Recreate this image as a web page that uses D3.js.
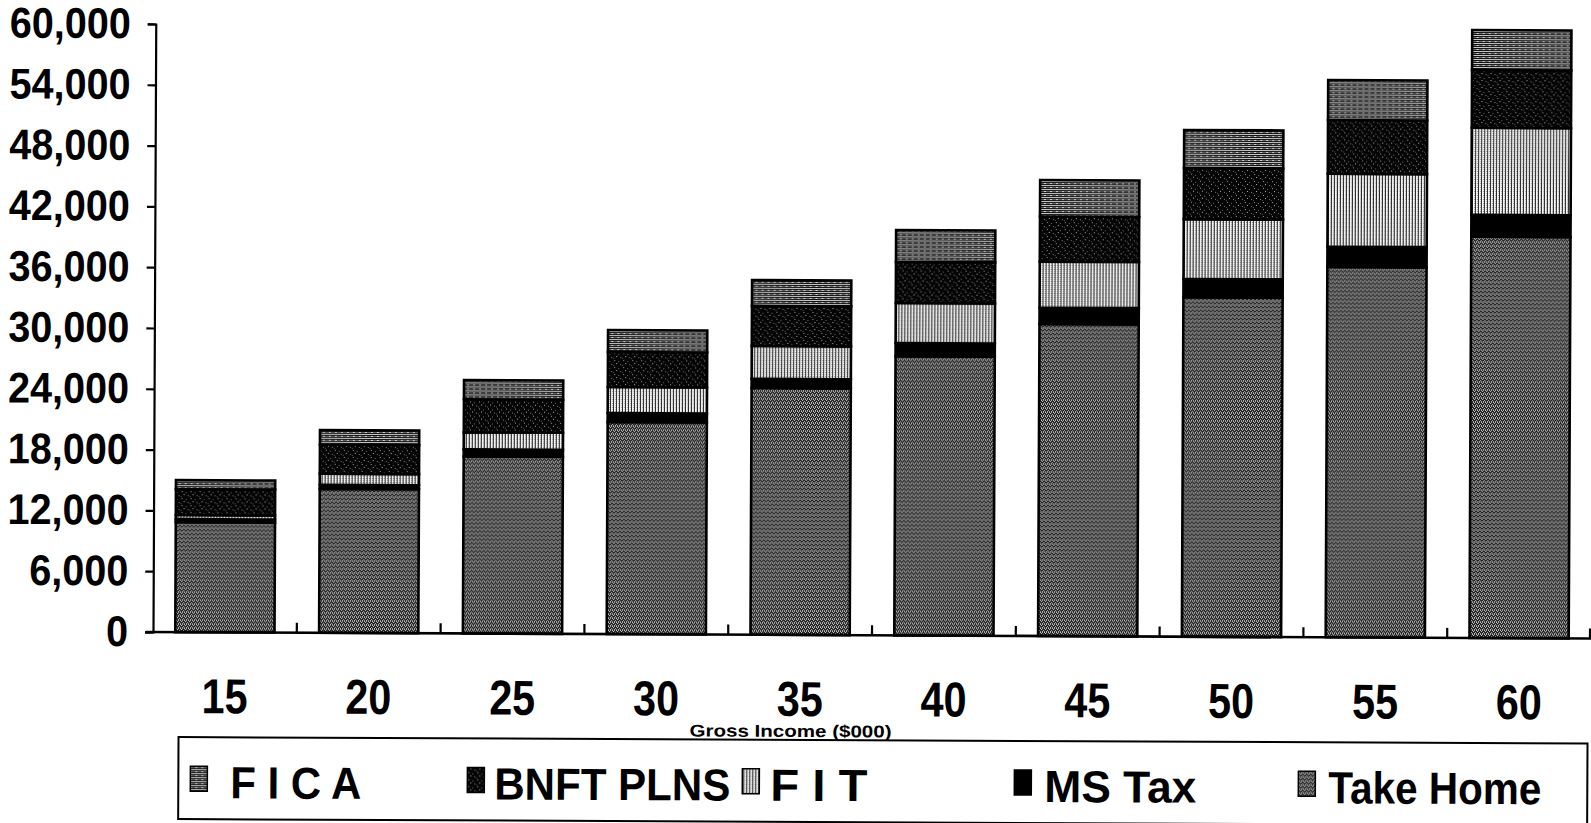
<!DOCTYPE html>
<html>
<head>
<meta charset="utf-8">
<script src="https://cdn.jsdelivr.net/npm/d3@7"></script>
<style>
  html, body { margin: 0; padding: 0; background: #fff; }
  svg { display: block; }
  text { font-family: "Liberation Sans", Arial, sans-serif; font-weight: bold; fill: #000; }
</style>
</head>
<body>
<svg id="chart" width="1591" height="823"></svg>
<script>
// Gross income levels ($000) and how each one is split up
const categories = ["15", "20", "25", "30", "35", "40", "45", "50", "55", "60"];
const takeHome  = [10850, 14200, 17470, 20920, 24350, 27550, 30800, 33500, 36550, 39600];
const msTax     = [300, 400, 690, 890, 900, 1300, 1600, 1800, 2000, 2150];
const fit       = [400, 1100, 1680, 2565, 3250, 3950, 4550, 5900, 7200, 8600];
const bnftPlns  = [2560, 2850, 3260, 3455, 3950, 4050, 4450, 5050, 5300, 5700];
const fica      = [890, 1450, 1900, 2170, 2550, 3150, 3600, 3750, 3950, 3950];
const yTicks    = [0, 6000, 12000, 18000, 24000, 30000, 36000, 42000, 48000, 54000, 60000];
const legendLabels = ["F I C A", "BNFT PLNS", "F I T", "MS Tax", "Take Home"];
const xTitle = "Gross Income ($000)";

// stacking order, bottom to top
const seriesKeys = ["takeHome", "msTax", "fit", "bnftPlns", "fica"];
const seriesVals = { takeHome, msTax, fit, bnftPlns, fica };
const rows = categories.map((c, i) => {
  const r = { cat: c };
  seriesKeys.forEach(k => r[k] = seriesVals[k][i]);
  return r;
});

const svg = d3.select("#chart");
const defs = svg.append("defs");

// --- fill textures -------------------------------------------------------
function pattern(id, w, h, bg, cells) {
  const p = defs.append("pattern").attr("id", id)
    .attr("patternUnits", "userSpaceOnUse").attr("width", w).attr("height", h);
  p.append("rect").attr("width", w).attr("height", h).attr("fill", bg);
  cells.forEach(([x, y, cw, ch, col]) =>
    p.append("rect").attr("x", x).attr("y", y).attr("width", cw).attr("height", ch).attr("fill", col));
}
// take home: fine grey dither
pattern("pTake", 4, 4, "#222", [
  [0,0,1,1,"#c4c4c4"], [2,0,1,1,"#a8a8a8"], [1,1,1,1,"#cccccc"],
  [3,2,1,1,"#b4b4b4"], [0,3,1,1,"#989898"], [2,3,1,1,"#c0c0c0"]
]);
// MS tax: solid black
pattern("pMs", 4, 4, "#000", []);
// federal income tax: light with vertical hatching
pattern("pFit", 3, 4, "#f6f6f6", [
  [0,0,1,4,"#2a2a2a"], [2,1,1,1,"#9a9a9a"], [2,3,1,1,"#bcbcbc"]
]);
// benefit plans: black with sparse speckles
pattern("pBnft", 9, 7, "#050505", [
  [1,1,1,1,"#9a9a9a"], [5,2,1,1,"#6a6a6a"], [3,4,1,1,"#b0b0b0"], [7,5,1,1,"#7a7a7a"], [0,6,1,1,"#555"]
]);
// FICA: horizontal striping
pattern("pFica", 6, 4, "#111", [
  [0,1,6,1,"#c8c8c8"], [0,3,4,1,"#6a6a6a"], [4,3,2,1,"#d8d8d8"]
]);
const fills = { takeHome: "url(#pTake)", msTax: "url(#pMs)", fit: "url(#pFit)", bnftPlns: "url(#pBnft)", fica: "url(#pFica)" };

// whole drawing sits a touch off square, like the printed original
const root = svg.append("g").attr("transform", "rotate(0.26,153,632)");

// --- scales ----------------------------------------------------------------
const x = d3.scaleBand().domain(categories).range([153, 1591]).paddingInner(0.31).paddingOuter(0.155);
const y = d3.scaleLinear().domain([0, 60000]).range([632, 24]);

// --- bars --------------------------------------------------------------------
const stacked = d3.stack().keys(seriesKeys)(rows);
root.append("g").selectAll("g").data(stacked).join("g")
  .attr("fill", d => fills[d.key])
  .selectAll("rect").data(d => d).join("rect")
  .attr("x", d => x(d.data.cat))
  .attr("width", x.bandwidth())
  .attr("y", d => y(d[1]))
  .attr("height", d => y(d[0]) - y(d[1]))
  .attr("stroke", "#000").attr("stroke-width", 2.6);

// --- y axis ------------------------------------------------------------------
const yAxis = root.append("g").attr("transform", "translate(153,0)")
  .call(d3.axisLeft(y).tickValues(yTicks).tickSize(8).tickPadding(17)
    .tickFormat(d3.format(",")));
yAxis.select(".domain").attr("stroke", "#000").attr("stroke-width", 2.2);
yAxis.selectAll(".tick line").attr("stroke", "#000").attr("stroke-width", 2.2);
yAxis.selectAll(".tick text")
  .style("font-size", "43px").style("font-family", "'Liberation Sans', Arial, sans-serif")
  .style("font-weight", "bold").attr("fill", "#000")
  .each(function () {
    const w = this.getComputedTextLength();
    d3.select(this).attr("textLength", w * 0.92).attr("lengthAdjust", "spacingAndGlyphs");
  });

// --- x axis: baseline with dividers between groups ----------------------------
const step = x.step();
const boundaries = categories.slice(1).map(c => x(c) - x.paddingInner() * step / 2)
  .concat([x.range()[1] - 1]);
const xAxisG = root.append("g");
xAxisG.append("line").attr("x1", 146).attr("x2", 1591).attr("y1", y(0)).attr("y2", y(0))
  .attr("stroke", "#000").attr("stroke-width", 2.6);
xAxisG.selectAll("line.div").data(boundaries).join("line").attr("class", "div")
  .attr("x1", d => d).attr("x2", d => d).attr("y1", y(0)).attr("y2", y(0) - 10)
  .attr("stroke", "#000").attr("stroke-width", 2.2);
xAxisG.selectAll("text.cat").data(categories).join("text").attr("class", "cat")
  .attr("x", d => x(d) + x.bandwidth() / 2).attr("y", 713)
  .attr("text-anchor", "middle").style("font-size", "49px")
  .attr("textLength", 46).attr("lengthAdjust", "spacingAndGlyphs")
  .text(d => d);
xAxisG.append("text").attr("x", 791).attr("y", 734).attr("text-anchor", "middle")
  .style("font-size", "17px").attr("textLength", 202).attr("lengthAdjust", "spacingAndGlyphs")
  .text(xTitle);

// --- legend ----------------------------------------------------------------
const legend = root.append("g");
legend.append("rect").attr("x", 179).attr("y", 737).attr("width", 1409).attr("height", 82)
  .attr("fill", "none").attr("stroke", "#000").attr("stroke-width", 2);
const legendKeys = ["fica", "bnftPlns", "fit", "msTax", "takeHome"];
const swatchX = [191, 468, 743, 1015, 1299];
const textX   = [231, 495, 771, 1045, 1329];
const textLen = [131, 236, 97, 152, 213];
const items = legend.selectAll("g.item").data(legendKeys).join("g").attr("class", "item");
items.append("rect")
  .attr("x", (d, i) => swatchX[i]).attr("y", 766).attr("width", 17).attr("height", 25)
  .attr("fill", d => fills[d]).attr("stroke", "#000").attr("stroke-width", 1.5);
items.append("text")
  .attr("x", (d, i) => textX[i]).attr("y", 798)
  .style("font-size", "45px")
  .attr("textLength", (d, i) => textLen[i]).attr("lengthAdjust", "spacingAndGlyphs")
  .text((d, i) => legendLabels[i]);
</script>
</body>
</html>
